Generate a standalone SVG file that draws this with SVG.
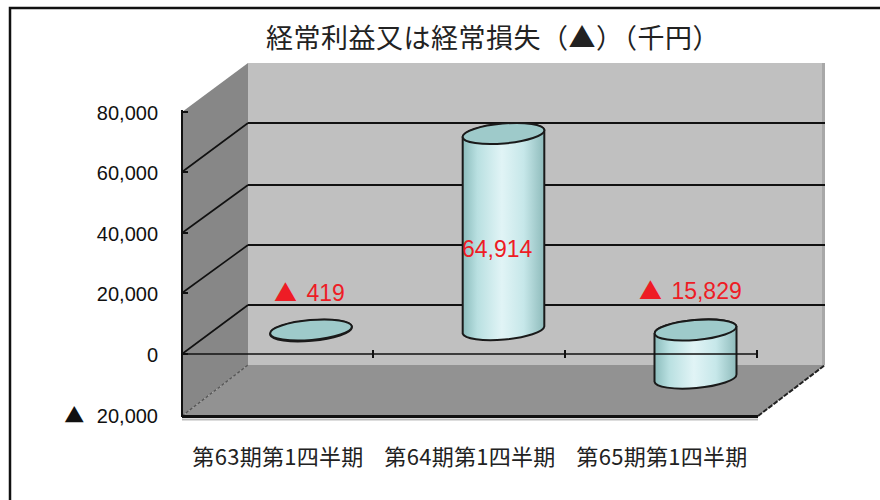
<svg xmlns="http://www.w3.org/2000/svg" width="880" height="500" viewBox="0 0 880 500">
<defs>
<linearGradient id="cyl" x1="0" y1="0" x2="1" y2="0">
<stop offset="0" stop-color="#8bbcbc"/>
<stop offset="0.18" stop-color="#b9e0e1"/>
<stop offset="0.48" stop-color="#e1f4f6"/>
<stop offset="0.75" stop-color="#c6e7e9"/>
<stop offset="1" stop-color="#8ebbbb"/>
</linearGradient>
</defs>
<style>
.ax{font-family:"Liberation Sans","DejaVu Sans",sans-serif;font-size:20px;fill:#111;text-anchor:end}
.cat{font-family:"Noto Sans CJK JP",sans-serif;font-size:22px;fill:#222;text-anchor:middle;letter-spacing:0.3px}
.val{font-family:"Liberation Sans","DejaVu Sans",sans-serif;font-size:23px;fill:#ee1c25}
.tri{font-family:"Noto Sans CJK JP",sans-serif}
.grid{stroke:#111;stroke-width:2;fill:none}
.diag{stroke:#111;stroke-width:1.6;fill:none}
.tick{stroke:#111;stroke-width:2}
.body{fill:url(#cyl);stroke:#1a1a1a;stroke-width:2}
.top{fill:#9ecaca;stroke:#1a1a1a;stroke-width:2}
</style>
<rect width="880" height="500" fill="#fff"/>
<g id="frame">
<path d="M10 500 V8 H880" fill="none" stroke="#111" stroke-width="2.5"/>
</g>
<g id="title">
<text x="493" y="48" font-family="'Noto Sans CJK JP',sans-serif" font-size="27" letter-spacing="0.5" fill="#222" text-anchor="middle">経常利益又は経常損失（▲）（千円）</text>
</g>
<g id="walls">
<polygon points="248,63 825,63 825,365 248,365" fill="#c0c0c0"/>
<line x1="823.5" y1="63" x2="823.5" y2="365" stroke="#a8a8a8" stroke-width="3"/>
<polygon points="182,112 248,63 248,365 182,416" fill="#878787"/>
<polygon points="182,416 248,365 825,365 758,416" fill="#929292"/>
<line x1="182" y1="416" x2="248" y2="365" stroke="#555" stroke-width="1.3" stroke-dasharray="3,2"/>
<line x1="758" y1="416" x2="825" y2="365" stroke="#222" stroke-width="2" stroke-dasharray="5,1.5"/>
<line x1="182" y1="416.5" x2="758" y2="416.5" stroke="#111" stroke-width="3"/>
<line x1="182" y1="419.5" x2="758" y2="419.5" stroke="#bbb" stroke-width="2"/>
</g>
<g id="gridlines">
<line class="grid" x1="248" y1="123" x2="825" y2="123"/>
<line class="grid" x1="248" y1="185" x2="825" y2="185"/>
<line class="grid" x1="248" y1="245" x2="825" y2="245"/>
<line class="grid" x1="248" y1="305" x2="825" y2="305"/>
<line class="diag" x1="182" y1="172" x2="248" y2="123"/>
<line class="diag" x1="182" y1="233" x2="248" y2="185"/>
<line class="diag" x1="182" y1="293" x2="248" y2="245"/>
<line class="diag" x1="182" y1="354" x2="248" y2="305"/>
</g>
<g id="bar-63">
<path class="body" d="M270.2 333.6 L270.2 334.9 A41 10 -5 0 0 351.8 327.7 L351.8 326.4 A41 10 -5 0 0 270.2 333.6 Z"/>
<ellipse class="top" cx="311" cy="330" rx="41" ry="10" transform="rotate(-5 311 330)"/>
</g>
<g id="bar-64">
<path class="body" d="M462.7 137.1 L462.7 333.6 A41 10 -5 0 0 544.3 326.4 L544.3 129.9 A41 10 -5 0 0 462.7 137.1 Z"/>
<ellipse class="top" cx="503.5" cy="133.5" rx="41" ry="10" transform="rotate(-5 503.5 133.5)"/>
</g>
<g id="axes">
<line x1="182" y1="110" x2="182" y2="417" stroke="#111" stroke-width="2"/>
<line class="tick" x1="182" y1="112" x2="188" y2="112"/>
<line class="tick" x1="182" y1="172" x2="188" y2="172"/>
<line class="tick" x1="182" y1="233" x2="188" y2="233"/>
<line class="tick" x1="182" y1="293" x2="188" y2="293"/>
<line class="tick" x1="182" y1="354" x2="188" y2="354"/>
<line class="tick" x1="182" y1="416" x2="188" y2="416"/>
</g>
<g id="bar-65">
<path class="body" d="M654.5 333.6 L654.5 381.6 A41 10 -5 0 0 736.5 374.4 L736.5 326.4 A41 10 -5 0 0 654.5 333.6 Z"/>
<ellipse class="top" cx="695.5" cy="330" rx="41" ry="10" transform="rotate(-5 695.5 330)"/>
</g>
<g id="zero-axis">
<line x1="182" y1="354" x2="758" y2="354" stroke="#111" stroke-width="1.6"/>
<line class="tick" x1="373" y1="350" x2="373" y2="358" stroke-width="3"/>
<line class="tick" x1="565" y1="350" x2="565" y2="358" stroke-width="3"/>
<line class="tick" x1="757" y1="350" x2="757" y2="358" stroke-width="3"/>
</g>
<g id="y-labels">
<text class="ax" x="158" y="120">80,000</text>
<text class="ax" x="158" y="180">60,000</text>
<text class="ax" x="158" y="241">40,000</text>
<text class="ax" x="158" y="301">20,000</text>
<text class="ax" x="158" y="362">0</text>
<text class="ax" x="158" y="423"><tspan class="tri">▲</tspan><tspan dx="7"> 20,000</tspan></text>
</g>
<g id="x-labels">
<text class="cat" x="278" y="465">第63期第1四半期</text>
<text class="cat" x="470" y="465">第64期第1四半期</text>
<text class="cat" x="662" y="465">第65期第1四半期</text>
</g>
<g id="value-labels">
<text class="val" x="274" y="301"><tspan class="tri">▲</tspan><tspan dx="3"> 419</tspan></text>
<text class="val" x="462" y="257">64,914</text>
<text class="val" x="639" y="299"><tspan class="tri">▲</tspan><tspan dx="3"> 15,829</tspan></text>
</g>
</svg>
